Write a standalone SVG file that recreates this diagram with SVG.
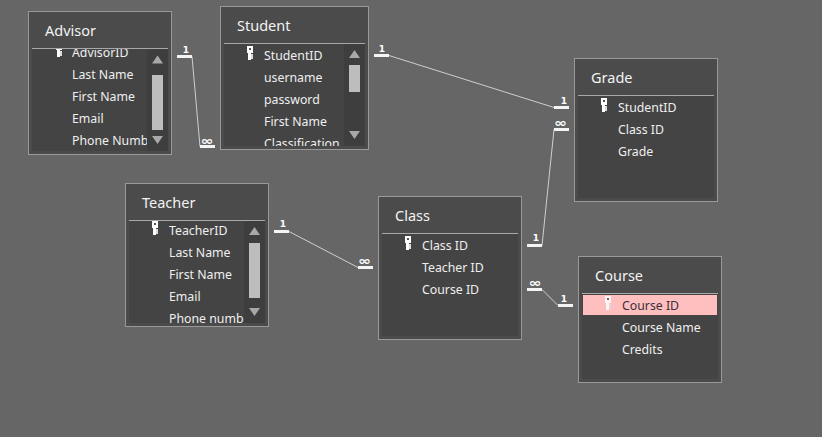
<svg xmlns="http://www.w3.org/2000/svg" width="822" height="437" viewBox="0 0 822 437">
<style>
text{font-family:"Noto Sans","Open Sans","Liberation Sans",sans-serif}
.box{fill:#4b4b4b;stroke:#999;stroke-width:1}
.list{fill:#444}
.rule{stroke:#a8a8a8;stroke-width:1}
.title{font-size:14.5px;fill:#f2f2f2}
.row{font-size:12.3px;fill:#efefef}
.track{fill:#3e3e3e}
.thumb{fill:#bdbdbd}
.arrow{fill:#a8a8a8}
.line{stroke:#cfcfcf;stroke-width:1;fill:none}
.bar{fill:#f4f4f4}
.card{font-family:"DejaVu Sans",sans-serif;font-size:9px;font-weight:bold;fill:#fff;text-anchor:middle}
.inf{font-family:"DejaVu Sans",sans-serif;font-size:12px;font-weight:bold;fill:#fff;text-anchor:middle}
</style>
<defs>
<g id="key"><rect x="0" y="0" width="6" height="7" fill="#fff"/><rect x="2" y="2" width="2" height="2" fill="#555"/><rect x="1" y="7" width="3" height="7" fill="#fff"/><rect x="4" y="8" width="2" height="5" fill="#ddd"/></g>
<clipPath id="cA"><rect x="32" y="49" width="115" height="102"/></clipPath>
<clipPath id="cS"><rect x="224" y="44" width="120" height="102"/></clipPath>
<clipPath id="cT"><rect x="129" y="221" width="115" height="102"/></clipPath>
</defs>
<rect width="822" height="437" fill="#666"/>
<g id="connectors">
<path class="line" d="M192 56.500L200 146.500"/>
<path class="line" d="M389 55.500L554 107.500"/>
<path class="line" d="M554 129.500L542 245.500"/>
<path class="line" d="M542 289.500L558 305.500"/>
<path class="line" d="M289 231.500L358 267.500"/>
<g class="bar">
<rect x="177" y="55" width="15" height="3"/><rect x="200" y="145" width="15" height="3"/>
<rect x="374" y="54" width="15" height="3"/><rect x="554" y="106" width="15" height="3"/>
<rect x="554" y="128" width="15" height="3"/><rect x="527" y="244" width="15" height="3"/>
<rect x="527" y="288" width="15" height="3"/><rect x="558" y="304" width="15" height="3"/>
<rect x="274" y="230" width="15" height="3"/><rect x="358" y="266" width="15" height="3"/>
</g>
<text class="card" x="186" y="53">1</text><text class="inf" x="207" y="144.500" textLength="13" lengthAdjust="spacingAndGlyphs">∞</text>
<text class="card" x="382" y="52">1</text><text class="card" x="564" y="104">1</text>
<text class="inf" x="560.500" y="127" textLength="13" lengthAdjust="spacingAndGlyphs">∞</text><text class="card" x="536" y="241">1</text>
<text class="inf" x="535" y="286.500" textLength="13" lengthAdjust="spacingAndGlyphs">∞</text><text class="card" x="564" y="302">1</text>
<text class="card" x="283" y="227">1</text><text class="inf" x="364.500" y="264.500" textLength="13" lengthAdjust="spacingAndGlyphs">∞</text>
</g>
<g id="advisor">
<rect class="box" x="28.500" y="11.500" width="143" height="143"/>
<rect class="list" x="32" y="49" width="136" height="102"/>
<path class="rule" d="M32 48.500H168"/>
<text class="title" x="45" y="36">Advisor</text>
<rect class="track" x="147" y="49" width="21" height="102"/>
<path class="arrow" d="M157.500 55.500L163 63.500H152Z"/><rect class="thumb" x="152" y="75" width="11" height="55"/><path class="arrow" d="M152 136H163L157.500 144Z"/>
<g clip-path="url(#cA)">
<use href="#key" x="56" y="43"/>
<text class="row" x="72" y="57">AdvisorID</text>
<text class="row" x="72" y="79">Last Name</text>
<text class="row" x="72" y="101">First Name</text>
<text class="row" x="72" y="123">Email</text>
<text class="row" x="72" y="145">Phone Number</text>
</g>
</g>
<g id="student">
<rect class="box" x="220.500" y="6.500" width="148" height="143"/>
<rect class="list" x="224" y="44" width="141" height="102"/>
<path class="rule" d="M224 43.500H365"/>
<text class="title" x="237" y="31">Student</text>
<rect class="track" x="344" y="44" width="21" height="102"/>
<path class="arrow" d="M354.500 50L360 58H349Z"/><rect class="thumb" x="349" y="65" width="11" height="27"/><path class="arrow" d="M349 131H360L354.500 139Z"/>
<g clip-path="url(#cS)">
<use href="#key" x="247" y="46"/>
<text class="row" x="264" y="60">StudentID</text>
<text class="row" x="264" y="82">username</text>
<text class="row" x="264" y="104">password</text>
<text class="row" x="264" y="126">First Name</text>
<text class="row" x="264" y="148">Classification</text>
</g>
</g>
<g id="grade">
<rect class="box" x="574.500" y="58.500" width="143" height="143"/>
<rect class="list" x="578" y="96" width="136" height="102"/>
<path class="rule" d="M578 95.500H714"/>
<text class="title" x="591" y="83">Grade</text>
<use href="#key" x="601" y="98"/>
<text class="row" x="618" y="112">StudentID</text>
<text class="row" x="618" y="134">Class ID</text>
<text class="row" x="618" y="156">Grade</text>
</g>
<g id="teacher">
<rect class="box" x="125.500" y="183.500" width="143" height="143"/>
<rect class="list" x="129" y="221" width="136" height="102"/>
<path class="rule" d="M129 220.500H265"/>
<text class="title" x="142" y="208">Teacher</text>
<rect class="track" x="244" y="221" width="21" height="102"/>
<path class="arrow" d="M254.500 227L260 235H249Z"/><rect class="thumb" x="249" y="243" width="11" height="55"/><path class="arrow" d="M249 308H260L254.500 316Z"/>
<g clip-path="url(#cT)">
<use href="#key" x="152" y="221"/>
<text class="row" x="169" y="235">TeacherID</text>
<text class="row" x="169" y="257">Last Name</text>
<text class="row" x="169" y="279">First Name</text>
<text class="row" x="169" y="301">Email</text>
<text class="row" x="169" y="323">Phone number</text>
</g>
</g>
<g id="class">
<rect class="box" x="378.500" y="196.500" width="143" height="143"/>
<rect class="list" x="382" y="234" width="136" height="102"/>
<path class="rule" d="M382 233.500H518"/>
<text class="title" x="395" y="221">Class</text>
<use href="#key" x="405" y="236"/>
<text class="row" x="422" y="250">Class ID</text>
<text class="row" x="422" y="272">Teacher ID</text>
<text class="row" x="422" y="294">Course ID</text>
</g>
<g id="course">
<rect class="box" x="578.500" y="256.500" width="143" height="126"/>
<rect class="list" x="582" y="294" width="136" height="85"/>
<path class="rule" d="M582 293.500H718"/>
<text class="title" x="595" y="281">Course</text>
<rect x="583" y="295" width="134" height="20" fill="#ffbfbf"/>
<use href="#key" x="605" y="296" opacity="0.85"/>
<text class="row" x="622" y="310" style="fill:#3a2f3a">Course ID</text>
<text class="row" x="622" y="332">Course Name</text>
<text class="row" x="622" y="354">Credits</text>
</g>
</svg>
